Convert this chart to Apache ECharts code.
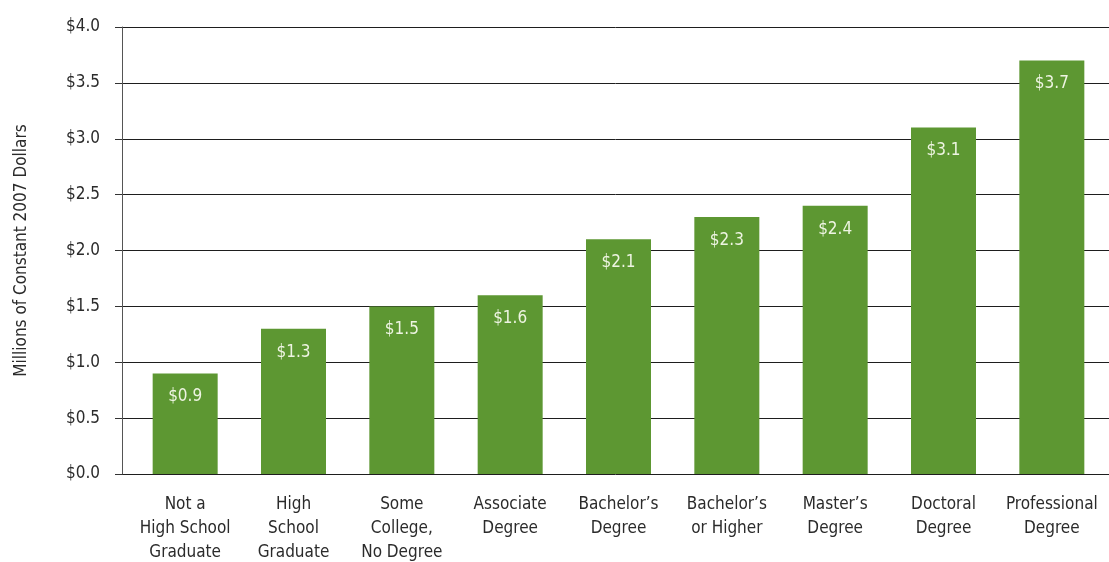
<!DOCTYPE html>
<html>
<head>
<meta charset="utf-8">
<title>Lifetime Earnings by Educational Attainment</title>
<script src="https://cdn.jsdelivr.net/npm/echarts@6/dist/echarts.min.js"></script>
<style>
  html, body { margin: 0; padding: 0; background: #ffffff; }
  #chart { width: 1109px; height: 562px; }
</style>
</head>
<body>
<div id="chart"></div>
<script>
// Education levels along the x axis
const categories = [
  'Not a\nHigh School\nGraduate',
  'High\nSchool\nGraduate',
  'Some\nCollege,\nNo Degree',
  'Associate\nDegree',
  'Bachelor\u2019s\nDegree',
  'Bachelor\u2019s\nor Higher',
  'Master\u2019s\nDegree',
  'Doctoral\nDegree',
  'Professional\nDegree'
];

// Work-life earnings, millions of constant 2007 dollars
const earnings = [0.9, 1.3, 1.5, 1.6, 2.1, 2.3, 2.4, 3.1, 3.7];

// Value axis range and step
const yMin = 0;
const yMax = 4;
const yStep = 0.5;

const FONT = '"Liberation Sans Narrow", "DejaVu Sans Condensed", sans-serif';
const TEXT = '#2b2b2b';
const GREEN = '#5d9732';

const chart = echarts.init(document.getElementById('chart'), null, { renderer: 'canvas' });

chart.setOption({
  animation: false,
  backgroundColor: '#ffffff',
  grid: [
    // frame: value axis and gridlines, running to the right edge
    { left: 122, right: 0, top: 27, bottom: 88, outerBoundsMode: 'none', containLabel: false },
    // bars
    { left: 131, right: 3, top: 27, bottom: 88, outerBoundsMode: 'none', containLabel: false }
  ],
  xAxis: [
    { type: 'value', gridIndex: 0, show: false, min: 0, max: 1 },
    {
      type: 'category',
      gridIndex: 1,
      data: categories,
      axisLine: { show: false },
      axisTick: { show: false },
      axisLabel: {
        interval: 0,
        margin: 19,
        color: TEXT,
        fontFamily: FONT,
        fontSize: 17,
        lineHeight: 24
      }
    }
  ],
  yAxis: [
    {
      type: 'value',
      gridIndex: 0,
      min: yMin,
      max: yMax,
      interval: yStep,
      name: 'Millions of Constant 2007 Dollars',
      nameLocation: 'middle',
      nameGap: 92,
      nameTextStyle: { color: TEXT, fontFamily: FONT, fontSize: 17 },
      axisLine: { show: true, lineStyle: { color: '#555555', width: 1 } },
      axisTick: { show: true, length: 7, lineStyle: { color: '#333333' } },
      axisLabel: {
        margin: 22,
        color: TEXT,
        fontFamily: FONT,
        fontSize: 17,
        formatter: v => '$' + v.toFixed(1)
      },
      splitLine: { show: true, lineStyle: { color: '#1e1e1e', width: 1 } }
    },
    { type: 'value', gridIndex: 1, min: yMin, max: yMax, show: false }
  ],
  series: [
    {
      type: 'bar',
      xAxisIndex: 1,
      yAxisIndex: 1,
      data: earnings,
      barWidth: 65,
      itemStyle: { color: GREEN, borderWidth: 0, borderRadius: 0 },
      label: {
        show: true,
        position: 'insideTop',
        distance: 15,
        color: '#eef4e2',
        fontFamily: FONT,
        fontSize: 17,
        formatter: p => '$' + p.value.toFixed(1)
      }
    }
  ]
});
</script>
</body>
</html>
